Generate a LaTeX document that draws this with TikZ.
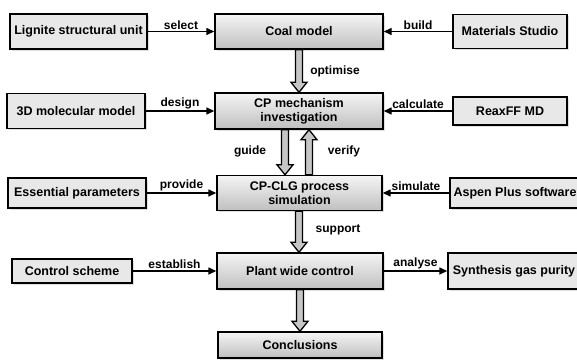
\documentclass[tikz,border=0pt]{standalone}
\usepackage{fontspec}
\setmainfont{Liberation Sans}
\usetikzlibrary{arrows.meta,shadows,calc}

\tikzset{
  boxbase/.style={draw, line width=1.4pt, inner sep=0pt,
    font=\bfseries\fontsize{12.5}{14}\selectfont,
    drop shadow={shadow xshift=1.5pt, shadow yshift=-1.5pt, fill=gray!25, opacity=1}},
  sidebox/.style={boxbase, fill=gray!18},
  mainbox/.style={boxbase, top color=gray!8, bottom color=gray!50},
  link/.style={line width=1.4pt, -{Triangle[length=8pt,width=7pt]}},
  lbl/.style={font=\bfseries\fontsize{12}{13}\selectfont, inner sep=1.5pt},
  fatline/.style={draw, line width=1.3pt, fill=gray!45, line join=miter}
}

% hollow block arrow between two anchors (vertical)
\newcommand{\fatarrow}[2]{%
  \draw[fatline] let \p1=(#1), \p2=(#2), \n1={sign(\y2-\y1)} in
    (\x1-3.5pt,\y1) -- (\x1-3.5pt,{\y2-\n1*10pt}) -- (\x1-8pt,{\y2-\n1*10pt})
    -- (\x1,\y2) -- (\x1+8pt,{\y2-\n1*10pt}) -- (\x1+3.5pt,{\y2-\n1*10pt})
    -- (\x1+3.5pt,\y1) -- cycle;}

\begin{document}
\begin{tikzpicture}[x=1pt,y=-1pt]
  \useasboundingbox (0,0) rectangle (577,359);
  % Left column
  \node[sidebox, minimum width=137pt, minimum height=35pt] (lignite) at (78.5,31.5) {Lignite structural unit};
  \node[sidebox, minimum width=138pt, minimum height=35pt] (mol) at (76,111) {3D molecular model};
  \node[sidebox, minimum width=138pt, minimum height=30pt] (param) at (77,193) {Essential parameters};
  \node[sidebox, minimum width=120pt, minimum height=24pt] (scheme) at (72,271) {Control scheme};
  % Main column
  \node[mainbox, minimum width=168pt, minimum height=35pt] (coal) at (299,31.5) {Coal model};
  \node[mainbox, minimum width=168pt, minimum height=36pt, align=center] (mech) at (299,111) {CP mechanism\\investigation};
  \node[mainbox, minimum width=165pt, minimum height=35pt, align=center] (clg) at (299.5,193) {CP-CLG process\\simulation};
  \node[mainbox, minimum width=166pt, minimum height=36pt] (plant) at (300,271) {Plant wide control};
  \node[mainbox, minimum width=164pt, minimum height=26pt] (concl) at (300,345) {Conclusions};
  % Right column
  \node[sidebox, minimum width=114pt, minimum height=34pt] (studio) at (510,31.5) {Materials Studio};
  \node[sidebox, minimum width=114pt, minimum height=28pt] (reax) at (510,111) {ReaxFF MD};
  \node[sidebox, minimum width=130pt, minimum height=30pt] (aspen) at (515,193) {Aspen Plus software};
  \node[sidebox, minimum width=132pt, minimum height=36pt] (purity) at (514,271) {Synthesis gas purity};
  % Thin arrows
  \draw[link] (lignite) -- node[lbl, above] (selectlbl) {select} (coal);
  \draw[link] (studio) -- node[lbl, above] (buildlbl) {build} (coal);
  \draw[link] (mol) -- node[lbl, above] (designlbl) {design} (mech);
  \draw[link] (reax) -- node[lbl, above] (calclbl) {calculate} (mech);
  \draw[link] (param) -- node[lbl, above] (providelbl) {provide} (clg);
  \draw[link] (aspen) -- node[lbl, above] (simlbl) {simulate} (clg);
  \draw[link] (scheme) -- node[lbl, above] (estlbl) {establish} (plant);
  \draw[link] (plant) -- node[lbl, above] (analyselbl) {analyse} (purity);
  % Block arrows
  \fatarrow{coal.south}{mech.north}
  \fatarrow{[xshift=-14pt]mech.south}{[xshift=-14.5pt]clg.north}
  \fatarrow{[xshift=9.5pt]clg.north}{[xshift=10pt]mech.south}
  \fatarrow{[xshift=-0.5pt]clg.south}{plant.north}
  \fatarrow{plant.south}{concl.north}
  \node[lbl] (optlbl) at (335,71) {optimise};
  \node[lbl] (guidelbl) at (250,151) {guide};
  \node[lbl] (verifylbl) at (344,151) {verify};
  \node[lbl] (supportlbl) at (338,230) {support};
\end{tikzpicture}
\end{document}
